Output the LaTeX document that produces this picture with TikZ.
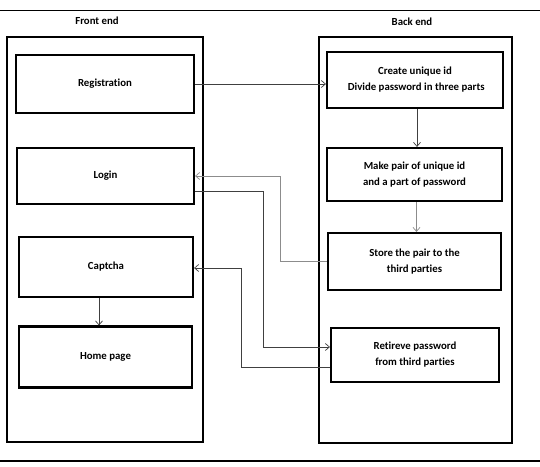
\documentclass[tikz,border=0pt]{standalone}
\usepackage{fontspec}
\setmainfont{Carlito}[RawFeature=-liga]
\usetikzlibrary{arrows.meta,calc}
\begin{document}
\begin{tikzpicture}[x=1pt,y=-1pt,
  box/.style={draw=black,line width=2.2pt,rectangle,align=center,inner sep=0pt,
    font=\bfseries\fontsize{10.8}{16}\selectfont},
  frame/.style={draw=black,line width=2pt},
  lbl/.style={font=\bfseries\fontsize{10.8}{12}\selectfont,inner sep=0pt},
  conn/.style={draw=black!75,line width=0.8pt,-{Straight Barb[length=4pt,width=7pt,line width=0.7pt]}},
  connl/.style={conn,draw=black!45}]
\useasboundingbox (0,0) rectangle (540,466);
\fill[white] (0,0) rectangle (540,466);
\draw[line width=1.5pt] (0,10.5) -- (540,10.5);
\draw[line width=2.2pt] (0,461) -- (540,461);

\node[lbl] (fe) at (97,21) {Front end};
\node[lbl] (be) at (412,22) {Back end};
\draw[frame] (7,37) rectangle (203,442);
\draw[frame] (319,37) rectangle (512,443);

\node[box,minimum width=178,minimum height=58] (reg) at (105,84) {Registration};
\node[box,minimum width=177,minimum height=56] (login) at (105.5,176) {Login};
\node[box,minimum width=174,minimum height=60] (cap) at (106,267) {Captcha};
\node[box,minimum width=173,minimum height=61] (home) at (105.5,357) {Home page};

\node[box,minimum width=176,minimum height=56] (create) at (415,80) {Create unique id\\ \ Divide password in three parts};
\node[box,minimum width=175,minimum height=53] (make) at (414.5,174.5) {Make pair of unique id\\and a part of password};
\node[box,minimum width=173,minimum height=57] (store) at (414.5,261.5) {Store the pair to the\\third parties};
\node[box,minimum width=168,minimum height=54] (retr) at (415,355) {Retireve password\\from third parties};

\draw[conn] (reg.east) -- (reg.east -| create.west);
\draw[conn] ([xshift=2pt]create.south) -- ([xshift=2pt]create.south |- make.north);
\draw[connl] ([xshift=2pt]make.south) -- ([xshift=2pt]make.south |- store.north);
\draw[connl] (store.west) -- ++(-47,0) |- (login.east);
\draw[conn] ([yshift=-15pt]login.east) -- ++(68,0) |- ([yshift=8pt]retr.west);
\draw[conn] ([yshift=-12pt]retr.west) -- ++(-89,0) |- ([yshift=-1pt]cap.east);
\draw[conn] ([xshift=-7pt]cap.south) -- ([xshift=-7pt]cap.south |- home.north);
\end{tikzpicture}
\end{document}
